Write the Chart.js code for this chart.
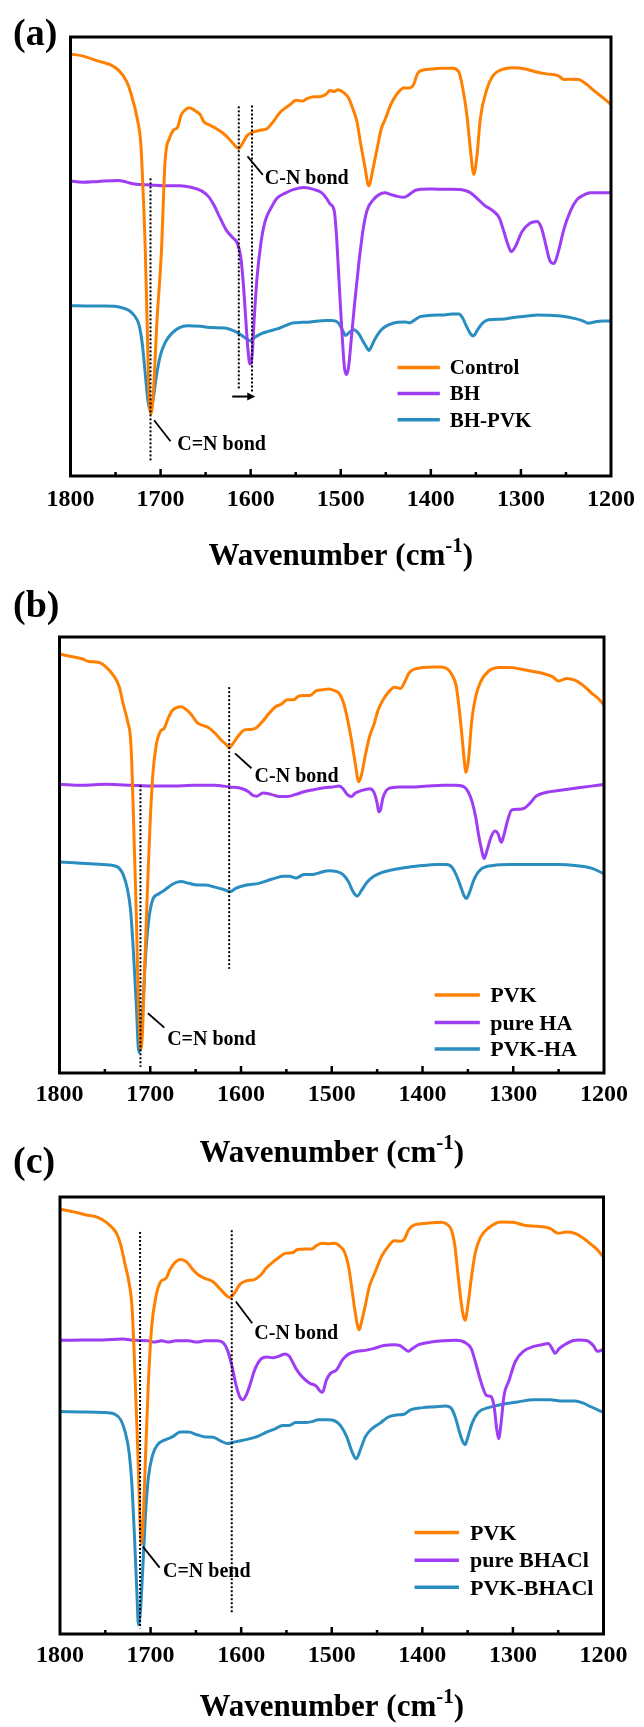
<!DOCTYPE html>
<html>
<head>
<meta charset="utf-8">
<script src="https://cdn.jsdelivr.net/npm/chart.js@4/dist/chart.umd.min.js"></script>
<style>
  html, body { margin: 0; padding: 0; background: #fff; }
  #wrap { position: relative; width: 644px; height: 1727px; overflow: hidden; }
  canvas { position: absolute; left: 0; }
</style>
</head>
<body>
<div id="wrap">
  <canvas id="chartA" width="644" height="580" style="top:0px"></canvas>
  <canvas id="chartB" width="644" height="600" style="top:580px"></canvas>
  <canvas id="chartC" width="644" height="587" style="top:1140px"></canvas>
</div>
<script>
// wavenumber axis (cm-1), drawn high -> low
const wnMin = 1200, wnMax = 1800, wnStep = 100

// panel (a): [wavenumber, transmittance (a.u., offset)]
const aControl = [[1800,96.1],[1787,95.7],[1769,94.5],[1756,93.7],[1747,92.5],[1738,90.0],[1733,87.2],[1726,81.5],[1722,75.8],[1720,67.7],[1717,51.5],[1715,35.3],[1713,19.1],[1710.5,14.2],[1708,19.1],[1704,35.3],[1699,51.5],[1695,71.8],[1690,77.0],[1686,78.7],[1681,79.5],[1677,82.3],[1672,83.5],[1668,83.9],[1661,83.1],[1656,82.3],[1652,80.7],[1645,79.9],[1638,79.1],[1632,78.3],[1625,77.0],[1618,75.4],[1613.4,74.6],[1609,75.8],[1604,77.5],[1600,78.1],[1591,78.7],[1582,79.1],[1575,80.7],[1568,82.7],[1561,83.9],[1555,84.8],[1550,85.6],[1543,85.4],[1537,86.0],[1530,86.4],[1523,86.4],[1516,87.0],[1512,87.8],[1507,87.6],[1503,88.0],[1496,87.2],[1491,86.0],[1487,83.9],[1482,80.7],[1478,75.8],[1473,70.2],[1469,66.1],[1464,70.2],[1460,74.2],[1455,79.1],[1451,81.1],[1444,84.8],[1437,87.2],[1430,88.4],[1424,88.4],[1419,89.2],[1415,91.6],[1408,92.5],[1399,92.7],[1390,92.9],[1376,92.9],[1369,92.1],[1365,88.8],[1360,82.3],[1356,74.2],[1352.3,68.7],[1349,72.6],[1345,81.5],[1338,88.0],[1331,91.2],[1322,92.5],[1308,93.0],[1295,92.7],[1286,92.2],[1272,91.6],[1259,91.2],[1252,90.3],[1245,90.4],[1236,90.3],[1227,89.2],[1218,87.6],[1209,86.2],[1200,84.6]]
const aBH = [[1800,67.2],[1787,66.9],[1769,67.1],[1747,67.3],[1729,66.5],[1710.5,66.3],[1697,66.1],[1679,66.1],[1665,65.7],[1654,64.9],[1647,63.7],[1640.5,61.6],[1634,58.8],[1627,56.0],[1620,54.3],[1615,53.1],[1611,49.9],[1608,43.4],[1605.3,35.3],[1603,28.8],[1600.8,25.5],[1598.5,27.2],[1596.2,35.3],[1593,45.0],[1588.6,53.1],[1584,58.0],[1577,61.2],[1570.5,63.3],[1561,64.5],[1552,65.3],[1541,65.7],[1530,65.3],[1521,64.5],[1516,63.3],[1512,62.0],[1507.2,60.4],[1505,55.6],[1502.7,47.4],[1500.5,39.3],[1498.2,31.2],[1495.9,24.7],[1493.7,23.1],[1491.4,24.7],[1488.3,31.2],[1484.6,39.3],[1480,48.3],[1475.6,55.6],[1471,60.4],[1464,62.9],[1457.5,64.1],[1451,64.5],[1444,64.1],[1437,63.7],[1430,63.5],[1424,64.1],[1417,65.1],[1403,65.4],[1390,65.3],[1376,65.3],[1363,65.1],[1356,64.5],[1349,63.3],[1340,61.6],[1331,60.4],[1324,58.8],[1320,56.4],[1315,53.1],[1310.7,51.1],[1306,52.3],[1299,55.6],[1290,57.6],[1282,58.0],[1277,56.4],[1272,52.3],[1268,49.1],[1263.3,48.4],[1259,50.7],[1252,56.4],[1245,60.4],[1238,62.9],[1232,63.8],[1223,64.5],[1209,64.5],[1200,64.5]]
const aBHPVK = [[1800,38.8],[1778,38.7],[1760,38.7],[1744,38.4],[1735,37.7],[1729,36.5],[1724,34.5],[1720.5,30.4],[1717.3,23.9],[1714.2,17.4],[1711.4,15.0],[1708.3,17.4],[1705,22.3],[1700.6,27.2],[1695,30.4],[1688,32.4],[1679,33.8],[1670,34.2],[1656,34.1],[1643,33.8],[1629,33.7],[1618,33.0],[1611,32.2],[1604.4,31.2],[1600,30.8],[1595.3,31.6],[1588.6,32.4],[1579.5,33.0],[1570.5,33.5],[1561,34.3],[1552,34.9],[1543,35.0],[1534,35.1],[1525,35.3],[1516,35.4],[1509.5,35.4],[1502.7,34.9],[1498.2,33.3],[1494.6,32.0],[1490,32.8],[1485.6,33.3],[1480,32.4],[1475.6,30.8],[1471,29.2],[1468.8,28.6],[1465.7,29.6],[1462,31.2],[1455,33.3],[1446,34.5],[1437,35.0],[1428,35.1],[1423.6,34.9],[1419,35.4],[1412,36.3],[1399,36.6],[1385,36.7],[1376,36.9],[1369,36.9],[1365,36.1],[1360.4,34.1],[1356,32.4],[1352.7,31.9],[1348.2,33.3],[1342.3,34.9],[1335.5,35.6],[1322,35.7],[1308,36.1],[1295,36.4],[1281,36.7],[1268,36.6],[1254,36.4],[1241,35.9],[1232,35.4],[1225,34.8],[1218,35.1],[1209,35.3],[1200,35.3]]

// panel (b)
const bPVK = [[1800,96.1],[1789,95.6],[1775,95.0],[1768,94.4],[1757,94.2],[1748,93.0],[1741,91.3],[1734,88.5],[1730,84.8],[1725,80.7],[1721.7,76.6],[1719.9,68.4],[1717.6,52.1],[1715.3,35.7],[1713.5,19.4],[1711.7,9.6],[1710.3,5.5],[1708.5,9.6],[1706.3,23.5],[1703.5,39.8],[1700.4,56.2],[1697.2,68.4],[1693.6,75.0],[1689,78.3],[1684.5,79.1],[1680,81.5],[1675.5,83.2],[1671,83.8],[1666,84.0],[1662,83.6],[1655,82.3],[1648,80.3],[1641.5,79.7],[1635,79.1],[1628,77.8],[1621,76.2],[1616.6,75.4],[1613,74.6],[1609.4,75.4],[1603,77.3],[1596,78.7],[1589,78.8],[1583,79.2],[1576,80.7],[1569,82.5],[1562,84.0],[1555.5,84.6],[1549,85.6],[1542,85.6],[1537,86.4],[1531,86.6],[1524,86.6],[1517,87.7],[1510,87.9],[1503,88.1],[1497,87.7],[1492,87.1],[1487.5,85.2],[1483,81.5],[1478.5,76.6],[1474,70.9],[1470.3,66.8],[1467.2,68.4],[1462.6,73.3],[1458,77.4],[1453.6,79.9],[1449,83.2],[1444.5,85.2],[1438,87.2],[1431,88.5],[1424,88.2],[1419.6,89.7],[1415,91.7],[1408,92.7],[1399,93.0],[1388,93.1],[1379,93.1],[1372,92.6],[1367.5,91.3],[1363,88.9],[1359.4,83.2],[1356.2,76.6],[1354,71.7],[1352.2,68.9],[1349.4,71.7],[1345.8,80.7],[1341.3,86.4],[1336,89.7],[1327,92.2],[1315,93.0],[1304,93.0],[1291,92.6],[1281,92.2],[1268,91.7],[1257,90.9],[1250,89.9],[1241,90.5],[1232,90.1],[1223,88.9],[1214,87.2],[1207,86.0],[1200,84.4]]
const bHA = [[1800,66.2],[1775,66.0],[1748,66.2],[1721,66.0],[1698,65.8],[1675,65.8],[1653,66.0],[1630,66.0],[1612,65.6],[1598.5,65.2],[1591.7,64.5],[1587.2,63.7],[1582.6,63.5],[1575.8,64.2],[1566.8,63.9],[1557.7,63.4],[1548.7,63.4],[1539.6,63.9],[1530.6,64.5],[1521.5,64.9],[1508,65.4],[1499,65.6],[1492,65.8],[1487.5,65.2],[1483,63.9],[1478.5,63.4],[1474,64.2],[1467,64.8],[1458,65.2],[1453.6,64.4],[1450,61.9],[1448.2,59.9],[1446.4,60.3],[1443.6,63.1],[1437.7,65.2],[1426,65.6],[1413,65.6],[1395,65.8],[1377,66.0],[1363,66.0],[1354,65.6],[1349.4,64.4],[1344.9,61.9],[1341.3,58.6],[1338.1,54.5],[1335,51.3],[1332.2,49.2],[1329.1,50.9],[1324.5,54.1],[1320,55.5],[1316.8,54.9],[1313.2,52.9],[1310.9,54.1],[1306.4,57.8],[1301.9,60.3],[1295,60.5],[1288,60.7],[1281.5,61.9],[1274.7,63.5],[1263,64.4],[1250,64.8],[1232,65.3],[1214,65.8],[1200,66.2]]
const bPVKHA = [[1800,48.4],[1784,48.2],[1766,48.0],[1752.5,47.8],[1741,47.6],[1734.3,47.0],[1729.8,45.5],[1725.3,42.3],[1721.7,37.4],[1718.5,27.6],[1715.3,15.3],[1712.6,4.7],[1710.3,7.1],[1708.1,15.3],[1704.9,27.6],[1701.3,35.7],[1697.2,39.8],[1691.3,41.0],[1684.5,41.9],[1675.5,43.3],[1666.4,43.9],[1657.4,43.5],[1648.3,43.1],[1639.2,43.1],[1630.2,42.7],[1619,42.1],[1612.1,41.6],[1605.3,42.4],[1594,43.1],[1580.4,43.5],[1571.3,44.1],[1562.3,44.7],[1553.2,45.1],[1546.4,45.1],[1539.6,44.7],[1530.6,45.5],[1521.5,45.5],[1512.5,46.0],[1503.4,46.4],[1494.3,46.2],[1487.5,45.5],[1481.7,43.9],[1476.2,41.5],[1471.7,40.6],[1467.2,41.9],[1460.4,43.9],[1453.6,45.1],[1444.5,46.0],[1435.5,46.5],[1422,47.0],[1413,47.3],[1399,47.6],[1386,47.8],[1374,47.8],[1367.5,47.2],[1363,45.5],[1358.5,43.1],[1354,40.6],[1351.7,40.0],[1348.1,41.5],[1342.6,44.7],[1335.8,46.7],[1322,47.6],[1304,47.8],[1277,47.8],[1250,47.8],[1232,47.6],[1214,47.0],[1200,45.7]]

// panel (c)
const cPVK = [[1800,97.2],[1785,96.6],[1771,95.9],[1762,95.6],[1753,94.8],[1744,93.3],[1737.4,91.6],[1732.9,89.0],[1728.3,84.7],[1723.8,80.4],[1720.6,75.2],[1718.4,65.8],[1716.1,52.9],[1713.8,40.0],[1712,27.1],[1710.2,20.6],[1707.9,27.1],[1705.7,40.0],[1702.5,57.2],[1698.9,70.1],[1694.3,77.0],[1688.9,80.6],[1683,81.4],[1678.5,83.4],[1672.6,85.1],[1667,85.7],[1660,85.1],[1653.5,83.4],[1646.7,82.1],[1640,81.4],[1631,80.6],[1624,79.1],[1618,77.8],[1612.7,77.0],[1608.2,77.8],[1601.4,80.0],[1594.6,80.8],[1585.5,81.1],[1578.7,82.1],[1572,83.8],[1565,85.1],[1558,86.2],[1551.5,87.1],[1542.4,87.3],[1538,88.0],[1529,88.1],[1522,88.1],[1517.5,88.8],[1510.7,89.4],[1504,89.3],[1497,89.4],[1490.3,88.6],[1485.7,87.3],[1481.2,83.8],[1477.6,78.7],[1474,73.5],[1469.8,69.6],[1466.7,71.8],[1463,75.2],[1458.5,79.5],[1451.7,83.0],[1445,86.4],[1438,88.6],[1431,90.0],[1424.5,89.9],[1420,90.3],[1415.4,92.4],[1408.6,93.6],[1395,94.0],[1379,94.2],[1372.3,93.7],[1367.8,92.4],[1364.2,89.0],[1361,83.0],[1357.8,77.0],[1355.1,73.1],[1352.8,71.8],[1349.7,75.2],[1346,81.3],[1341.5,87.3],[1336,90.7],[1327,92.9],[1313,94.3],[1300,94.2],[1286,93.5],[1273,93.3],[1259,92.8],[1250,91.7],[1241,92.0],[1232,91.7],[1223,90.7],[1214,89.2],[1207,88.0],[1200,86.2]]
const cBHACl = [[1800,67.2],[1776,67.3],[1753,67.3],[1731,67.5],[1717,67.2],[1703,67.1],[1697,66.8],[1687.5,67.1],[1681,66.8],[1672,67.1],[1658,67.1],[1649,66.8],[1640,67.1],[1626,67.1],[1619.5,66.6],[1615,64.9],[1610.4,61.5],[1605.9,57.2],[1601.4,54.2],[1598.2,53.6],[1594.6,54.6],[1590,57.2],[1585.5,60.2],[1578.7,62.8],[1572,63.4],[1565,63.2],[1558,63.6],[1551.5,64.1],[1547,63.6],[1542.4,61.9],[1537.9,60.2],[1531,58.5],[1524.3,57.4],[1517.5,56.8],[1512.9,55.6],[1510.2,55.3],[1506.1,58.0],[1501.6,59.6],[1494.8,60.4],[1488,62.8],[1481,64.1],[1472,64.7],[1463,64.9],[1454,65.3],[1442.6,66.0],[1431,66.2],[1424.5,66.0],[1420,65.3],[1415.4,64.7],[1410.9,65.3],[1404,66.2],[1390.5,66.8],[1377,67.1],[1363,67.2],[1352,66.6],[1346,65.3],[1341.5,62.3],[1337,58.9],[1332.4,55.9],[1329.3,54.6],[1324.7,54.4],[1322.5,53.7],[1320.2,51.2],[1317.9,46.9],[1315.7,44.7],[1313.4,47.7],[1309.8,54.6],[1304.3,58.0],[1297.5,62.3],[1288.4,64.7],[1277,65.8],[1268,66.2],[1261,66.5],[1256.7,65.3],[1253.5,64.2],[1249,65.3],[1243,66.2],[1234,67.1],[1227,67.3],[1218,67.1],[1211.3,66.0],[1206.8,64.7],[1202.3,64.9],[1200,65.3]]
const cPVKBHACl = [[1800,50.9],[1776,50.8],[1753,50.7],[1739.7,50.3],[1732.9,49.0],[1728.3,46.4],[1723.8,41.7],[1720.6,34.0],[1717.9,22.8],[1715.2,9.9],[1713.4,2.1],[1711.1,5.6],[1708.8,14.2],[1705.7,27.1],[1702.5,35.7],[1698,40.8],[1692,43.4],[1685.3,44.3],[1676,45.1],[1667,46.2],[1658,46.2],[1649,45.6],[1640,45.1],[1631,45.0],[1622,44.1],[1615,43.6],[1608,43.9],[1599,44.3],[1590,44.7],[1581,45.3],[1572,46.2],[1563,46.9],[1554,47.7],[1547,47.7],[1540,48.4],[1529,48.4],[1522,48.6],[1515,49.0],[1504,49.0],[1497,48.8],[1490.3,47.7],[1483.4,45.1],[1477.6,41.7],[1473,40.1],[1468.5,42.1],[1463,45.1],[1456,46.9],[1447,48.2],[1438,49.6],[1429,50.1],[1420,50.3],[1413,51.3],[1399.5,51.8],[1386,52.0],[1374.6,52.2],[1367.8,51.6],[1363.3,49.4],[1358.7,46.0],[1355.1,43.9],[1352.8,43.3],[1349.7,45.1],[1345.1,48.2],[1338.3,50.7],[1327,51.8],[1313,52.5],[1295,53.1],[1277,53.6],[1259,53.6],[1245,53.3],[1232,53.3],[1223,52.9],[1214,52.0],[1200,50.7]]

const labelsA = ['Control', 'BH', 'BH-PVK']
const labelsB = ['PVK', 'pure HA', 'PVK-HA']
const labelsC = ['PVK', 'pure BHACl', 'PVK-BHACl']
const seriesColors = ['#FF8000', '#9E3DF4', '#2A8DC0']

const FAMILY = "'Liberation Serif', 'Times New Roman', serif"
function bold(size) { return 'bold ' + size + 'px ' + FAMILY }

// frame, inward ticks, dotted guides, notes, legend, panel letter, axis title
const panelPlugin = {
  id: 'panel',
  afterDatasetsDraw(chart, args, o) {
    const ctx = chart.ctx, a = chart.chartArea
    const xs = chart.scales.x, ys = chart.scales.y
    const px = v => xs.getPixelForValue(v), py = v => ys.getPixelForValue(v)
    ctx.save()
    ctx.strokeStyle = '#000'
    ctx.fillStyle = '#000'

    // dotted guides
    ctx.lineWidth = 2
    ctx.setLineDash([2, 2])
    o.guides.forEach(g => {
      ctx.beginPath()
      ctx.moveTo(px(g[0]), py(g[1]))
      ctx.lineTo(px(g[0]), py(g[2]))
      ctx.stroke()
    })
    ctx.setLineDash([])

    // leader lines + notes
    ctx.lineWidth = 1.8
    o.notes.forEach(n => {
      ctx.beginPath()
      ctx.moveTo(px(n.from[0]), py(n.from[1]))
      ctx.lineTo(px(n.to[0]), py(n.to[1]))
      ctx.stroke()
      ctx.font = bold(20)
      ctx.textAlign = 'left'
      ctx.textBaseline = 'alphabetic'
      ctx.fillText(n.text, px(n.at[0]), py(n.at[1]) + 7)
    })

    // shift arrow
    if (o.arrow) {
      const x1 = px(o.arrow[0]), x2 = px(o.arrow[1]), y = py(o.arrow[2])
      ctx.lineWidth = 2
      ctx.beginPath(); ctx.moveTo(x1, y); ctx.lineTo(x2 - 6, y); ctx.stroke()
      ctx.beginPath(); ctx.moveTo(x2, y); ctx.lineTo(x2 - 8, y - 4); ctx.lineTo(x2 - 8, y + 4); ctx.closePath(); ctx.fill()
    }

    // legend
    const L = o.legend
    chart.data.datasets.forEach((ds, i) => {
      const y = py(L.ys[i])
      ctx.strokeStyle = ds.borderColor
      ctx.lineWidth = 3.5
      ctx.beginPath(); ctx.moveTo(px(L.line[0]), y); ctx.lineTo(px(L.line[1]), y); ctx.stroke()
      ctx.fillStyle = '#000'
      ctx.font = bold(L.size)
      ctx.textAlign = 'left'
      ctx.fillText(ds.label, px(L.text), y + L.size * 0.33)
    })

    // frame and inward ticks
    ctx.strokeStyle = '#000'
    ctx.lineWidth = 3
    ctx.strokeRect(a.left, a.top, a.right - a.left, a.bottom - a.top)
    ctx.lineWidth = 2.5
    for (let v = wnMin + 50; v < wnMax; v += 50) {
      const len = v % 100 === 0 ? 7 : 4
      ctx.beginPath(); ctx.moveTo(px(v), a.bottom); ctx.lineTo(px(v), a.bottom - len); ctx.stroke()
    }

    // panel letter
    ctx.font = bold(38)
    ctx.textAlign = 'left'
    ctx.fillText(o.letter, 13, o.letterY)

    // axis title with superscript
    const main = 'Wavenumber (cm', sup = '-1', tail = ')'
    ctx.font = bold(31); const w1 = ctx.measureText(main).width, w3 = ctx.measureText(tail).width
    ctx.font = bold(21); const w2 = ctx.measureText(sup).width
    let x = (a.left + a.right) / 2 - (w1 + w2 + w3) / 2
    const yb = o.titleY
    ctx.font = bold(31); ctx.fillText(main, x, yb); x += w1
    ctx.font = bold(21); ctx.fillText(sup, x, yb - 13); x += w2
    ctx.font = bold(31); ctx.fillText(tail, x, yb)
    ctx.restore()
  }
}

function makeChart(id, series, labels, box, axisH, tickPad, panel) {
  return new Chart(document.getElementById(id), {
    type: 'line',
    data: {
      datasets: series.map((s, i) => ({
        label: labels[i],
        data: s.map(p => ({ x: p[0], y: p[1] })),
        borderColor: seriesColors[i],
        borderWidth: 3,
        pointRadius: 0,
        fill: false,
        cubicInterpolationMode: 'monotone'
      }))
    },
    options: {
      responsive: false,
      animation: false,
      devicePixelRatio: 1,
      layout: { padding: { left: box.left, right: box.right, top: box.top, bottom: 0 } },
      scales: {
        x: {
          type: 'linear', reverse: true, min: wnMin, max: wnMax,
          afterFit: s => { s.height = axisH },
          grid: { display: false, drawTicks: false },
          border: { display: false },
          ticks: {
            stepSize: wnStep, autoSkip: false, maxRotation: 0, padding: tickPad,
            color: '#000', font: { family: FAMILY, size: 24, weight: 'bold' },
            callback: v => String(v)
          }
        },
        y: { display: false, min: 0, max: 100 }
      },
      plugins: { legend: { display: false }, tooltip: { enabled: false }, panel: panel }
    },
    plugins: [panelPlugin]
  })
}

makeChart('chartA', [aControl, aBH, aBHPVK], labelsA, { left: 70.5, right: 27, top: 37 }, 104, 9, {
  letter: '(a)', letterY: 45, titleY: 565,
  guides: [[1711.2, 67.8, 3.2], [1613.2, 84.2, 19.5], [1598.5, 84.4, 19.2]],
  arrow: [1620.5, 1594.9, 18.1],
  notes: [
    { text: 'C-N bond', from: [1603.5, 72.8], to: [1586.5, 68.6], at: [1584.3, 68.0] },
    { text: 'C=N bond', from: [1707.2, 12.7], to: [1689.0, 7.9], at: [1681.5, 7.5] }
  ],
  legend: { line: [1437, 1390], text: 1379, ys: [24.7, 18.8, 12.8], size: 21 }
})

makeChart('chartB', [bPVK, bHA, bPVKHA], labelsB, { left: 59.5, right: 40, top: 57 }, 107, 7, {
  letter: '(b)', letterY: 36.6, titleY: 582,
  guides: [[1710.8, 66.0, 1.4], [1613.0, 88.5, 23.9]],
  arrow: null,
  notes: [
    { text: 'C-N bond', from: [1606.6, 73.3], to: [1588.5, 69.9], at: [1585.0, 68.4] },
    { text: 'C=N bond', from: [1702.6, 13.7], to: [1684.5, 10.4], at: [1681.4, 8.1] }
  ],
  legend: { line: [1386.6, 1336.8], text: 1325.4, ys: [17.9, 11.6, 5.5], size: 22 }
})

makeChart('chartC', [cPVK, cBHACl, cPVKBHACl], labelsC, { left: 60, right: 40.5, top: 57 }, 93, 7, {
  letter: '(c)', letterY: 33.3, titleY: 576,
  guides: [[1711.6, 92.0, 1.3], [1610.4, 92.4, 4.7]],
  arrow: null,
  notes: [
    { text: 'C-N bond', from: [1605.9, 76.1], to: [1587.8, 71.1], at: [1585.5, 69.0] },
    { text: 'C=N bend', from: [1708.5, 20.0], to: [1690.0, 15.2], at: [1686.3, 14.7] }
  ],
  legend: { line: [1408.6, 1359.6], text: 1347.4, ys: [23.2, 16.9, 10.7], size: 22 }
})
</script>
</body>
</html>
